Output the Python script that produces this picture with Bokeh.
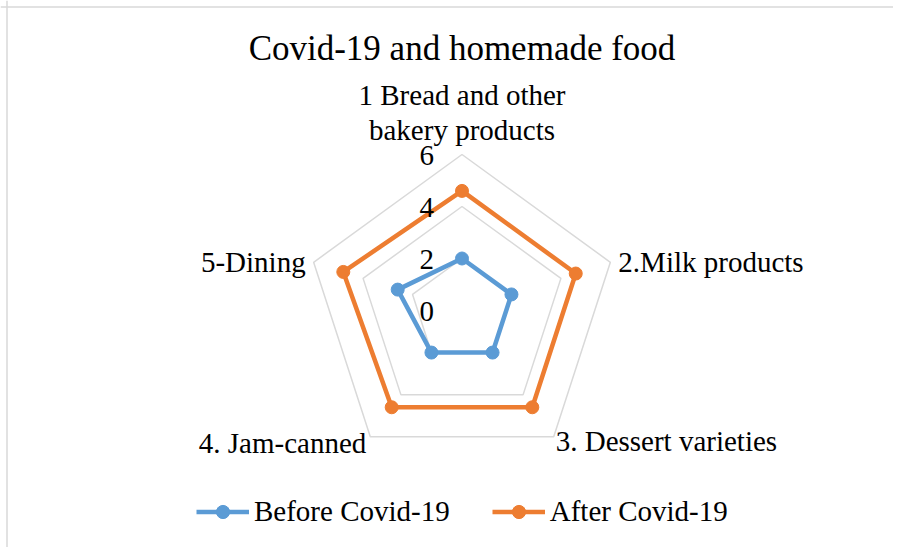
import numpy as np
from bokeh.plotting import figure
from bokeh.models import ColumnDataSource, Legend, LegendItem, Span, Range1d, Label
from bokeh.core.properties import value
from bokeh.embed import file_html
from bokeh.resources import INLINE

# ---- data ----
title_text = "Covid-19 and homemade food"
categories = ["1 Bread and other\nbakery products", "2.Milk products",
              "3. Dessert varieties", "4. Jam-canned", "5-Dining"]
before = [2.0, 2.0, 2.0, 2.0, 2.6]
after = [4.6, 4.6, 4.6, 4.6, 4.8]
series_names = ["Before Covid-19", "After Covid-19"]
ticks = [0, 2, 4, 6]
r_max = 6

# ---- layout ----
FONT = "Liberation Serif"
W, H = 893, 547
cx_px, cy_px = 461.5, 310.0   # radar centre in figure pixels (from top-left)
unit = 26.0                    # pixels per value unit
x_range = Range1d(-cx_px / unit, (W - cx_px) / unit)
y_range = Range1d(-(H - cy_px) / unit, cy_px / unit)

p = figure(width=W, height=H, x_range=x_range, y_range=y_range,
           output_backend="svg", toolbar_location=None, min_border=0,
           x_axis_location=None, y_axis_location=None)
p.grid.visible = False
p.outline_line_color = None
p.background_fill_color = "white"
p.border_fill_color = "white"

n = len(categories)
theta = np.pi / 2 - 2 * np.pi * np.arange(n) / n


def ring(vals):
    v = np.asarray(vals, dtype=float)
    xs = v * np.cos(theta)
    ys = v * np.sin(theta)
    return list(np.append(xs, xs[0])), list(np.append(ys, ys[0]))


# grid pentagons
gx, gy = [], []
for t in ticks[1:]:
    xs, ys = ring([t] * n)
    gx.append(xs)
    gy.append(ys)
p.multi_line(gx, gy, line_color="#D9D9D9", line_width=1.5)

# series
colors = ["#5B9BD5", "#ED7D31"]
items = []
for name, vals, col in zip(series_names, [before, after], colors):
    xs, ys = ring(vals)
    lr = p.line(xs, ys, line_color=col, line_width=4.5)
    pts = ColumnDataSource(dict(x=xs[:-1], y=ys[:-1]))
    sr = p.scatter("x", "y", source=pts, size=13, fill_color=col, line_color=col)
    items.append(LegendItem(label=name, renderers=[lr, sr]))

# radial tick labels
tick_src = ColumnDataSource(dict(x=[0] * len(ticks), y=ticks, t=[str(t) for t in ticks]))
p.text("x", "y", text="t", source=tick_src, x_offset=-28, y_offset=1,
       text_align="right", text_baseline="middle",
       text_font=value(FONT), text_font_size="29px", text_color="black")

# category labels
ax = list(r_max * np.cos(theta))
ay = list(r_max * np.sin(theta))
aligns = ["center", "left", "left", "right", "right"]
baselines = ["bottom", "middle", "middle", "middle", "middle"]
xoffs = [0, 8, 2, -4, -8]
yoffs = [-8, 0, 4, 6, 0]
cat_src = ColumnDataSource(dict(x=ax, y=ay, t=categories, a=aligns, b=baselines,
                                xo=xoffs, yo=yoffs))
p.text("x", "y", text="t", source=cat_src, x_offset="xo", y_offset="yo",
       text_align="a", text_baseline="b", text_line_height=1.1,
       text_font=value(FONT), text_font_size="29px", text_color="black")

# title
p.add_layout(Label(x=0, y=H - 48, y_units="screen", text=title_text,
                   text_align="center", text_baseline="middle",
                   text_font=FONT, text_font_size="35px", text_color="black"))

# legend
legend = Legend(items=items, orientation="horizontal", location=(196, 19),
                glyph_width=53, glyph_height=33, label_standoff=5, spacing=42,
                padding=0, margin=0, border_line_color=None,
                background_fill_alpha=0,
                label_text_font=FONT, label_text_font_size="29px",
                label_text_color="black")
p.add_layout(legend, "center")

# chart border (left and top edges visible in the reference)
p.add_layout(Span(location=x_range.start + 6.5 / unit, dimension="height",
                  line_color="#D9D9D9", line_width=1.5))
p.add_layout(Span(location=y_range.end - 6.5 / unit, dimension="width",
                  line_color="#D9D9D9", line_width=1.5))

open("out.html", "w").write(file_html(p, INLINE))
